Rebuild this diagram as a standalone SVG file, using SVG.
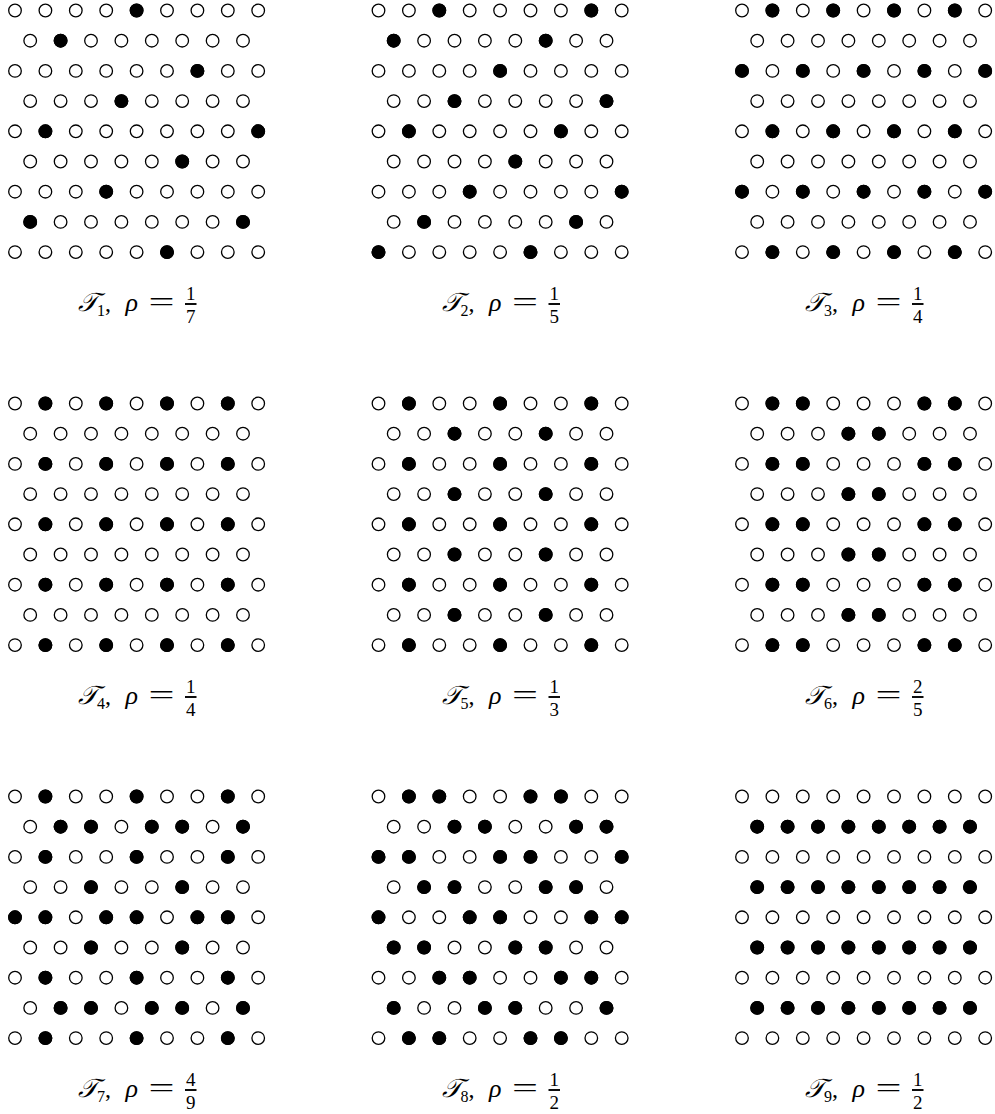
<svg xmlns="http://www.w3.org/2000/svg" xmlns:xlink="http://www.w3.org/1999/xlink" width="995" height="1114" viewBox="0 0 995 1114">
<style>
.o{fill:#fff;stroke:#000;stroke-width:1.3}
.f{fill:#000;stroke:#000;stroke-width:1.3}
.t{font-family:"Liberation Serif","DejaVu Serif",serif;fill:#000}
.it{font-style:italic}
.bar{stroke:#000;stroke-width:1.9}
.sub{font-size:16px}
.num{font-size:19px;text-anchor:middle}
</style>
<defs>
<g id="r9"><circle class="o" cx="0" cy="0" r="6.3"/><circle class="o" cx="30.4" cy="0" r="6.3"/><circle class="o" cx="60.8" cy="0" r="6.3"/><circle class="o" cx="91.2" cy="0" r="6.3"/><circle class="o" cx="121.6" cy="0" r="6.3"/><circle class="o" cx="152" cy="0" r="6.3"/><circle class="o" cx="182.4" cy="0" r="6.3"/><circle class="o" cx="212.8" cy="0" r="6.3"/><circle class="o" cx="243.2" cy="0" r="6.3"/></g>
<g id="r8"><circle class="o" cx="15.2" cy="0" r="6.3"/><circle class="o" cx="45.6" cy="0" r="6.3"/><circle class="o" cx="76" cy="0" r="6.3"/><circle class="o" cx="106.4" cy="0" r="6.3"/><circle class="o" cx="136.8" cy="0" r="6.3"/><circle class="o" cx="167.2" cy="0" r="6.3"/><circle class="o" cx="197.6" cy="0" r="6.3"/><circle class="o" cx="228" cy="0" r="6.3"/></g>
<g id="f8"><circle class="f" cx="15.2" cy="0" r="6.3"/><circle class="f" cx="45.6" cy="0" r="6.3"/><circle class="f" cx="76" cy="0" r="6.3"/><circle class="f" cx="106.4" cy="0" r="6.3"/><circle class="f" cx="136.8" cy="0" r="6.3"/><circle class="f" cx="167.2" cy="0" r="6.3"/><circle class="f" cx="197.6" cy="0" r="6.3"/><circle class="f" cx="228" cy="0" r="6.3"/></g>
<g id="grid"><use xlink:href="#r9" y="0"/><use xlink:href="#r8" y="30.2"/><use xlink:href="#r9" y="60.4"/><use xlink:href="#r8" y="90.6"/><use xlink:href="#r9" y="120.8"/><use xlink:href="#r8" y="151"/><use xlink:href="#r9" y="181.2"/><use xlink:href="#r8" y="211.4"/><use xlink:href="#r9" y="241.6"/></g>
<g id="lab"><text class="t it" x="63" y="300.5" font-size="26">𝒯</text><text class="t" x="90" y="300.5" font-size="24">,</text><text class="t it" x="110.5" y="300.5" font-size="26">ρ</text><text class="t" x="133.6" y="300.5" font-size="28" textLength="26" lengthAdjust="spacingAndGlyphs">=</text><line class="bar" x1="170" y1="293.5" x2="181.5" y2="293.5"/></g>
</defs>

<g id="T1" transform="translate(15,10.5)">
<use xlink:href="#grid"/>
<circle class="f" cx="121.6" cy="0" r="6.3"/>
<circle class="f" cx="45.6" cy="30.2" r="6.3"/>
<circle class="f" cx="182.4" cy="60.4" r="6.3"/>
<circle class="f" cx="106.4" cy="90.6" r="6.3"/>
<circle class="f" cx="30.4" cy="120.8" r="6.3"/><circle class="f" cx="243.2" cy="120.8" r="6.3"/>
<circle class="f" cx="167.2" cy="151" r="6.3"/>
<circle class="f" cx="91.2" cy="181.2" r="6.3"/>
<circle class="f" cx="15.2" cy="211.4" r="6.3"/><circle class="f" cx="228" cy="211.4" r="6.3"/>
<circle class="f" cx="152" cy="241.6" r="6.3"/>
<use xlink:href="#lab"/>
<text class="t sub" x="82" y="305.5">1</text>
<text class="t num" x="175.75" y="289.5">1</text>
<text class="t num" x="175.75" y="312.5">7</text>
</g>

<g id="T2" transform="translate(378.5,10.5)">
<use xlink:href="#grid"/>
<circle class="f" cx="60.8" cy="0" r="6.3"/><circle class="f" cx="212.8" cy="0" r="6.3"/>
<circle class="f" cx="15.2" cy="30.2" r="6.3"/><circle class="f" cx="167.2" cy="30.2" r="6.3"/>
<circle class="f" cx="121.6" cy="60.4" r="6.3"/>
<circle class="f" cx="76" cy="90.6" r="6.3"/><circle class="f" cx="228" cy="90.6" r="6.3"/>
<circle class="f" cx="30.4" cy="120.8" r="6.3"/><circle class="f" cx="182.4" cy="120.8" r="6.3"/>
<circle class="f" cx="136.8" cy="151" r="6.3"/>
<circle class="f" cx="91.2" cy="181.2" r="6.3"/><circle class="f" cx="243.2" cy="181.2" r="6.3"/>
<circle class="f" cx="45.6" cy="211.4" r="6.3"/><circle class="f" cx="197.6" cy="211.4" r="6.3"/>
<circle class="f" cx="0" cy="241.6" r="6.3"/><circle class="f" cx="152" cy="241.6" r="6.3"/>
<use xlink:href="#lab"/>
<text class="t sub" x="82" y="305.5">2</text>
<text class="t num" x="175.75" y="289.5">1</text>
<text class="t num" x="175.75" y="312.5">5</text>
</g>

<g id="T3" transform="translate(742,10.5)">
<use xlink:href="#grid"/>
<circle class="f" cx="30.4" cy="0" r="6.3"/><circle class="f" cx="91.2" cy="0" r="6.3"/><circle class="f" cx="152" cy="0" r="6.3"/><circle class="f" cx="212.8" cy="0" r="6.3"/>
<circle class="f" cx="0" cy="60.4" r="6.3"/><circle class="f" cx="60.8" cy="60.4" r="6.3"/><circle class="f" cx="121.6" cy="60.4" r="6.3"/><circle class="f" cx="182.4" cy="60.4" r="6.3"/><circle class="f" cx="243.2" cy="60.4" r="6.3"/>
<circle class="f" cx="30.4" cy="120.8" r="6.3"/><circle class="f" cx="91.2" cy="120.8" r="6.3"/><circle class="f" cx="152" cy="120.8" r="6.3"/><circle class="f" cx="212.8" cy="120.8" r="6.3"/>
<circle class="f" cx="0" cy="181.2" r="6.3"/><circle class="f" cx="60.8" cy="181.2" r="6.3"/><circle class="f" cx="121.6" cy="181.2" r="6.3"/><circle class="f" cx="182.4" cy="181.2" r="6.3"/><circle class="f" cx="243.2" cy="181.2" r="6.3"/>
<circle class="f" cx="30.4" cy="241.6" r="6.3"/><circle class="f" cx="91.2" cy="241.6" r="6.3"/><circle class="f" cx="152" cy="241.6" r="6.3"/><circle class="f" cx="212.8" cy="241.6" r="6.3"/>
<use xlink:href="#lab"/>
<text class="t sub" x="82" y="305.5">3</text>
<text class="t num" x="175.75" y="289.5">1</text>
<text class="t num" x="175.75" y="312.5">4</text>
</g>

<g id="T4" transform="translate(15,403.5)">
<use xlink:href="#grid"/>
<circle class="f" cx="30.4" cy="0" r="6.3"/><circle class="f" cx="91.2" cy="0" r="6.3"/><circle class="f" cx="152" cy="0" r="6.3"/><circle class="f" cx="212.8" cy="0" r="6.3"/>
<circle class="f" cx="30.4" cy="60.4" r="6.3"/><circle class="f" cx="91.2" cy="60.4" r="6.3"/><circle class="f" cx="152" cy="60.4" r="6.3"/><circle class="f" cx="212.8" cy="60.4" r="6.3"/>
<circle class="f" cx="30.4" cy="120.8" r="6.3"/><circle class="f" cx="91.2" cy="120.8" r="6.3"/><circle class="f" cx="152" cy="120.8" r="6.3"/><circle class="f" cx="212.8" cy="120.8" r="6.3"/>
<circle class="f" cx="30.4" cy="181.2" r="6.3"/><circle class="f" cx="91.2" cy="181.2" r="6.3"/><circle class="f" cx="152" cy="181.2" r="6.3"/><circle class="f" cx="212.8" cy="181.2" r="6.3"/>
<circle class="f" cx="30.4" cy="241.6" r="6.3"/><circle class="f" cx="91.2" cy="241.6" r="6.3"/><circle class="f" cx="152" cy="241.6" r="6.3"/><circle class="f" cx="212.8" cy="241.6" r="6.3"/>
<use xlink:href="#lab"/>
<text class="t sub" x="82" y="305.5">4</text>
<text class="t num" x="175.75" y="289.5">1</text>
<text class="t num" x="175.75" y="312.5">4</text>
</g>

<g id="T5" transform="translate(378.5,403.5)">
<use xlink:href="#grid"/>
<circle class="f" cx="30.4" cy="0" r="6.3"/><circle class="f" cx="121.6" cy="0" r="6.3"/><circle class="f" cx="212.8" cy="0" r="6.3"/>
<circle class="f" cx="76" cy="30.2" r="6.3"/><circle class="f" cx="167.2" cy="30.2" r="6.3"/>
<circle class="f" cx="30.4" cy="60.4" r="6.3"/><circle class="f" cx="121.6" cy="60.4" r="6.3"/><circle class="f" cx="212.8" cy="60.4" r="6.3"/>
<circle class="f" cx="76" cy="90.6" r="6.3"/><circle class="f" cx="167.2" cy="90.6" r="6.3"/>
<circle class="f" cx="30.4" cy="120.8" r="6.3"/><circle class="f" cx="121.6" cy="120.8" r="6.3"/><circle class="f" cx="212.8" cy="120.8" r="6.3"/>
<circle class="f" cx="76" cy="151" r="6.3"/><circle class="f" cx="167.2" cy="151" r="6.3"/>
<circle class="f" cx="30.4" cy="181.2" r="6.3"/><circle class="f" cx="121.6" cy="181.2" r="6.3"/><circle class="f" cx="212.8" cy="181.2" r="6.3"/>
<circle class="f" cx="76" cy="211.4" r="6.3"/><circle class="f" cx="167.2" cy="211.4" r="6.3"/>
<circle class="f" cx="30.4" cy="241.6" r="6.3"/><circle class="f" cx="121.6" cy="241.6" r="6.3"/><circle class="f" cx="212.8" cy="241.6" r="6.3"/>
<use xlink:href="#lab"/>
<text class="t sub" x="82" y="305.5">5</text>
<text class="t num" x="175.75" y="289.5">1</text>
<text class="t num" x="175.75" y="312.5">3</text>
</g>

<g id="T6" transform="translate(742,403.5)">
<use xlink:href="#grid"/>
<circle class="f" cx="30.4" cy="0" r="6.3"/><circle class="f" cx="60.8" cy="0" r="6.3"/><circle class="f" cx="182.4" cy="0" r="6.3"/><circle class="f" cx="212.8" cy="0" r="6.3"/>
<circle class="f" cx="106.4" cy="30.2" r="6.3"/><circle class="f" cx="136.8" cy="30.2" r="6.3"/>
<circle class="f" cx="30.4" cy="60.4" r="6.3"/><circle class="f" cx="60.8" cy="60.4" r="6.3"/><circle class="f" cx="182.4" cy="60.4" r="6.3"/><circle class="f" cx="212.8" cy="60.4" r="6.3"/>
<circle class="f" cx="106.4" cy="90.6" r="6.3"/><circle class="f" cx="136.8" cy="90.6" r="6.3"/>
<circle class="f" cx="30.4" cy="120.8" r="6.3"/><circle class="f" cx="60.8" cy="120.8" r="6.3"/><circle class="f" cx="182.4" cy="120.8" r="6.3"/><circle class="f" cx="212.8" cy="120.8" r="6.3"/>
<circle class="f" cx="106.4" cy="151" r="6.3"/><circle class="f" cx="136.8" cy="151" r="6.3"/>
<circle class="f" cx="30.4" cy="181.2" r="6.3"/><circle class="f" cx="60.8" cy="181.2" r="6.3"/><circle class="f" cx="182.4" cy="181.2" r="6.3"/><circle class="f" cx="212.8" cy="181.2" r="6.3"/>
<circle class="f" cx="106.4" cy="211.4" r="6.3"/><circle class="f" cx="136.8" cy="211.4" r="6.3"/>
<circle class="f" cx="30.4" cy="241.6" r="6.3"/><circle class="f" cx="60.8" cy="241.6" r="6.3"/><circle class="f" cx="182.4" cy="241.6" r="6.3"/><circle class="f" cx="212.8" cy="241.6" r="6.3"/>
<use xlink:href="#lab"/>
<text class="t sub" x="82" y="305.5">6</text>
<text class="t num" x="175.75" y="289.5">2</text>
<text class="t num" x="175.75" y="312.5">5</text>
</g>

<g id="T7" transform="translate(15,796.5)">
<use xlink:href="#grid"/>
<circle class="f" cx="30.4" cy="0" r="6.3"/><circle class="f" cx="121.6" cy="0" r="6.3"/><circle class="f" cx="212.8" cy="0" r="6.3"/>
<circle class="f" cx="45.6" cy="30.2" r="6.3"/><circle class="f" cx="76" cy="30.2" r="6.3"/><circle class="f" cx="136.8" cy="30.2" r="6.3"/><circle class="f" cx="167.2" cy="30.2" r="6.3"/><circle class="f" cx="228" cy="30.2" r="6.3"/>
<circle class="f" cx="30.4" cy="60.4" r="6.3"/><circle class="f" cx="121.6" cy="60.4" r="6.3"/><circle class="f" cx="212.8" cy="60.4" r="6.3"/>
<circle class="f" cx="76" cy="90.6" r="6.3"/><circle class="f" cx="167.2" cy="90.6" r="6.3"/>
<circle class="f" cx="0" cy="120.8" r="6.3"/><circle class="f" cx="30.4" cy="120.8" r="6.3"/><circle class="f" cx="91.2" cy="120.8" r="6.3"/><circle class="f" cx="121.6" cy="120.8" r="6.3"/><circle class="f" cx="182.4" cy="120.8" r="6.3"/><circle class="f" cx="212.8" cy="120.8" r="6.3"/>
<circle class="f" cx="76" cy="151" r="6.3"/><circle class="f" cx="167.2" cy="151" r="6.3"/>
<circle class="f" cx="30.4" cy="181.2" r="6.3"/><circle class="f" cx="121.6" cy="181.2" r="6.3"/><circle class="f" cx="212.8" cy="181.2" r="6.3"/>
<circle class="f" cx="45.6" cy="211.4" r="6.3"/><circle class="f" cx="76" cy="211.4" r="6.3"/><circle class="f" cx="136.8" cy="211.4" r="6.3"/><circle class="f" cx="167.2" cy="211.4" r="6.3"/><circle class="f" cx="228" cy="211.4" r="6.3"/>
<circle class="f" cx="30.4" cy="241.6" r="6.3"/><circle class="f" cx="121.6" cy="241.6" r="6.3"/><circle class="f" cx="212.8" cy="241.6" r="6.3"/>
<use xlink:href="#lab"/>
<text class="t sub" x="82" y="305.5">7</text>
<text class="t num" x="175.75" y="289.5">4</text>
<text class="t num" x="175.75" y="312.5">9</text>
</g>

<g id="T8" transform="translate(378.5,796.5)">
<use xlink:href="#grid"/>
<circle class="f" cx="30.4" cy="0" r="6.3"/><circle class="f" cx="60.8" cy="0" r="6.3"/><circle class="f" cx="152" cy="0" r="6.3"/><circle class="f" cx="182.4" cy="0" r="6.3"/>
<circle class="f" cx="76" cy="30.2" r="6.3"/><circle class="f" cx="106.4" cy="30.2" r="6.3"/><circle class="f" cx="197.6" cy="30.2" r="6.3"/><circle class="f" cx="228" cy="30.2" r="6.3"/>
<circle class="f" cx="0" cy="60.4" r="6.3"/><circle class="f" cx="30.4" cy="60.4" r="6.3"/><circle class="f" cx="121.6" cy="60.4" r="6.3"/><circle class="f" cx="152" cy="60.4" r="6.3"/><circle class="f" cx="243.2" cy="60.4" r="6.3"/>
<circle class="f" cx="45.6" cy="90.6" r="6.3"/><circle class="f" cx="76" cy="90.6" r="6.3"/><circle class="f" cx="167.2" cy="90.6" r="6.3"/><circle class="f" cx="197.6" cy="90.6" r="6.3"/>
<circle class="f" cx="0" cy="120.8" r="6.3"/><circle class="f" cx="91.2" cy="120.8" r="6.3"/><circle class="f" cx="121.6" cy="120.8" r="6.3"/><circle class="f" cx="212.8" cy="120.8" r="6.3"/><circle class="f" cx="243.2" cy="120.8" r="6.3"/>
<circle class="f" cx="15.2" cy="151" r="6.3"/><circle class="f" cx="45.6" cy="151" r="6.3"/><circle class="f" cx="136.8" cy="151" r="6.3"/><circle class="f" cx="167.2" cy="151" r="6.3"/>
<circle class="f" cx="60.8" cy="181.2" r="6.3"/><circle class="f" cx="91.2" cy="181.2" r="6.3"/><circle class="f" cx="182.4" cy="181.2" r="6.3"/><circle class="f" cx="212.8" cy="181.2" r="6.3"/>
<circle class="f" cx="15.2" cy="211.4" r="6.3"/><circle class="f" cx="106.4" cy="211.4" r="6.3"/><circle class="f" cx="136.8" cy="211.4" r="6.3"/><circle class="f" cx="228" cy="211.4" r="6.3"/>
<circle class="f" cx="30.4" cy="241.6" r="6.3"/><circle class="f" cx="60.8" cy="241.6" r="6.3"/><circle class="f" cx="152" cy="241.6" r="6.3"/><circle class="f" cx="182.4" cy="241.6" r="6.3"/>
<use xlink:href="#lab"/>
<text class="t sub" x="82" y="305.5">8</text>
<text class="t num" x="175.75" y="289.5">1</text>
<text class="t num" x="175.75" y="312.5">2</text>
</g>

<g id="T9" transform="translate(742,796.5)">
<use xlink:href="#grid"/>
<use xlink:href="#f8" y="30.2"/><use xlink:href="#f8" y="90.6"/><use xlink:href="#f8" y="151"/><use xlink:href="#f8" y="211.4"/>
<use xlink:href="#lab"/>
<text class="t sub" x="82" y="305.5">9</text>
<text class="t num" x="175.75" y="289.5">1</text>
<text class="t num" x="175.75" y="312.5">2</text>
</g>
</svg>
